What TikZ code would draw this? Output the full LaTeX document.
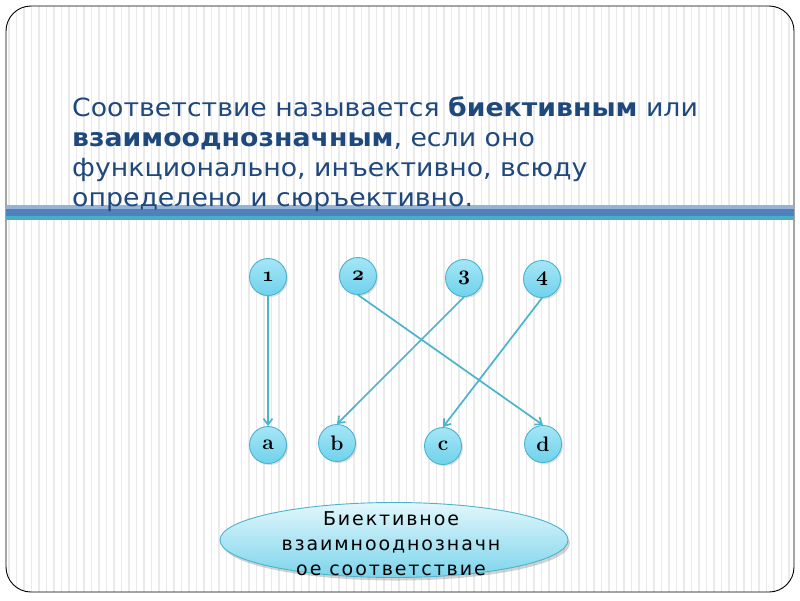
\documentclass[tikz,border=0pt]{standalone}
\usepackage{fontspec}
\usetikzlibrary{arrows,arrows.meta,shapes.geometric,shadows}
\newfontfamily\titlefont[FakeStretch=1.07]{DejaVu Sans}
\newfontfamily\boxfont[LetterSpace=10]{DejaVu Sans}
\definecolor{TitleClr}{RGB}{31,73,125}
\definecolor{StripeClr}{RGB}{234,234,234}
\definecolor{BarTopClr}{RGB}{149,179,215}
\definecolor{BarMidClr}{RGB}{79,129,189}
\definecolor{BarLowClr}{RGB}{75,172,198}
\definecolor{NodeTopClr}{RGB}{165,230,246}
\definecolor{NodeClr}{RGB}{112,210,236}
\definecolor{BoxTopClr}{RGB}{226,247,252}
\definecolor{BoxLowClr}{RGB}{124,212,236}
\definecolor{LineClr}{RGB}{75,180,205}

\begin{document}
\begin{tikzpicture}[x=1pt,y=-1pt,
  elem/.style={circle,draw=LineClr,line width=.9pt,top color=NodeTopClr,bottom color=NodeClr,
    minimum size=37pt,inner sep=0pt,font=\fontsize{21}{21}\selectfont,
    drop shadow={shadow xshift=1.5pt,shadow yshift=-1.5pt,opacity=.25}},
  maparrow/.style={-{Straight Barb[length=6pt,width=9pt]},line width=1.7pt,draw=LineClr}]
\useasboundingbox (0,0) rectangle (800,600);
\fill[white] (0,0) rectangle (800,600);

\begin{scope}
\clip[rounded corners=25pt] (6,6) rectangle (794,592);
\foreach \sx in {9,16.5,...,794} \draw[StripeClr,line width=1.5pt] (\sx,6) -- (\sx,592);
\end{scope}
\draw[rounded corners=25pt,line width=.9pt] (6,6) rectangle (794,592);

\fill[BarTopClr] (6,205) rectangle (794,209);
\fill[BarMidClr] (6,209) rectangle (794,216);
\fill[BarLowClr] (6,216) rectangle (794,220);

\node[anchor=north west,inner sep=0pt,align=left,text=TitleClr,font=\titlefont\fontsize{25}{30}\selectfont] (title) at (72,96)
  {Соответствие называется \textbf{биективным} или\\
   \textbf{взаимооднозначным}, если оно\\
   функционально, инъективно, всюду\\
   определено и сюръективно.};

\node[elem] (n1) at (268,277) {{\boldmath$\mathnormal{1}$}};
\node[elem] (n2) at (358,276) {{\boldmath$\mathnormal{2}$}};
\node[elem] (n3) at (464,278) {{\boldmath$\mathnormal{3}$}};
\node[elem] (n4) at (542,279) {{\boldmath$\mathnormal{4}$}};
\node[elem] (a) at (268,445) {\textbf{a}};
\node[elem] (b) at (337,443) {\textbf{b}};
\node[elem] (c) at (443,446) {\textbf{c}};
\node[elem] (d) at (543,444) {\textbf{d}};

\draw[maparrow] (n1.south) -- (a.north);
\draw[maparrow] (n2.south) -- (d.north);
\draw[maparrow] (n3.south) -- (b.north);
\draw[maparrow] (n4.south) -- (c.north);

\node[ellipse,draw=LineClr,line width=.9pt,top color=BoxTopClr,bottom color=BoxLowClr,
  minimum width=348pt,minimum height=75pt,inner sep=0pt,
  drop shadow={shadow xshift=2pt,shadow yshift=-3pt,opacity=.35}] (box) at (394,540) {};
\node[align=center,inner sep=0pt,font=\boxfont\fontsize{19}{25}\selectfont] (boxtext) at (391,544)
  {Биективное\\взаимнооднозначн\\ое соответствие};
\end{tikzpicture}
\end{document}
